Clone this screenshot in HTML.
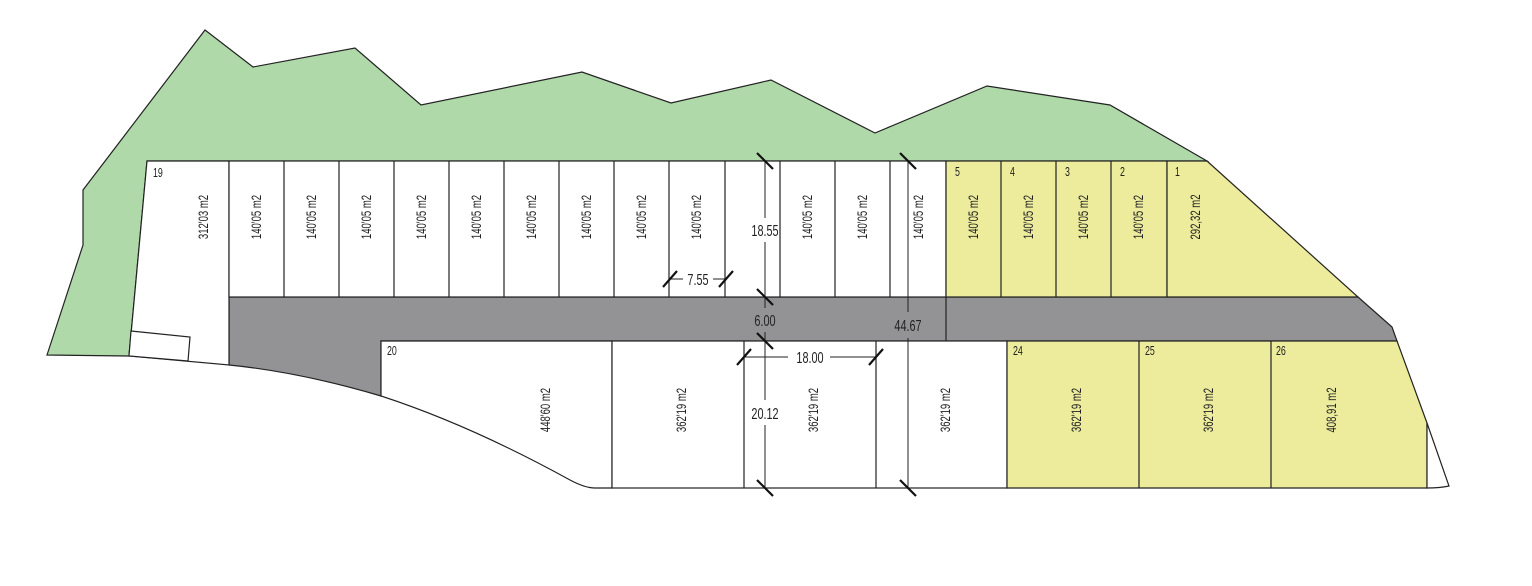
<!DOCTYPE html>
<html><head><meta charset="utf-8"><style>
html,body{margin:0;padding:0;background:#fff;}
svg{display:block}
text{font-family:"Liberation Sans",sans-serif;fill:#222;}
</style></head><body>
<svg width="1532" height="586" viewBox="0 0 1532 586" xmlns="http://www.w3.org/2000/svg">
<g stroke="#222" stroke-width="1.2">
<polygon fill="#b0d9aa" points="47,355 83,245 83,190 205,30 253,67 355,48 421,105 582,72 671,103 771,80 875,133 987,86 1110,105 1207,161 147,161 129,356"/>
<path fill="#939396" d="M229,297 L1358,297 L1392,327 L1397,341 L381,341 L381,396 Q300,372 229,365 Z"/>
<line x1="946" y1="297" x2="946" y2="341"/>
<polygon fill="#fff" points="147,161 229,161 229,365 129,356"/>
<polygon fill="#fff" points="131,331 190,337 188,361 129,356"/>
<rect x="229" y="161" width="717" height="136" fill="#fff"/>
<rect x="946" y="161" width="221" height="136" fill="#ecec9c"/>
<polygon fill="#ecec9c" points="1167,161 1207,161 1358,297 1167,297"/>
<g>
<line x1="284" y1="161" x2="284" y2="297"/><line x1="339" y1="161" x2="339" y2="297"/>
<line x1="394" y1="161" x2="394" y2="297"/><line x1="449" y1="161" x2="449" y2="297"/>
<line x1="504" y1="161" x2="504" y2="297"/><line x1="559" y1="161" x2="559" y2="297"/>
<line x1="614" y1="161" x2="614" y2="297"/><line x1="669" y1="161" x2="669" y2="297"/>
<line x1="725" y1="161" x2="725" y2="297"/><line x1="780" y1="161" x2="780" y2="297"/>
<line x1="835" y1="161" x2="835" y2="297"/><line x1="890" y1="161" x2="890" y2="297"/>
<line x1="1001" y1="161" x2="1001" y2="297"/><line x1="1056" y1="161" x2="1056" y2="297"/>
<line x1="1111" y1="161" x2="1111" y2="297"/>
</g>
<path fill="#fff" d="M381,341 L612,341 L612,488 L595,488 Q585,488 570,480 Q470,425 381,396 Z"/>
<rect x="612" y="341" width="395" height="147" fill="#fff"/>
<polygon fill="#ecec9c" points="1007,341 1397,341 1427,423 1427,488 1007,488"/>
<path fill="#fff" d="M1427,423 L1449,486 Q1440,488 1427,488 Z"/>
<line x1="744" y1="341" x2="744" y2="488"/><line x1="876" y1="341" x2="876" y2="488"/>
<line x1="1139" y1="341" x2="1139" y2="488"/><line x1="1271" y1="341" x2="1271" y2="488"/>
</g>
<g stroke="#222" stroke-width="1">
<line x1="765" y1="161" x2="765" y2="218"/><line x1="765" y1="242" x2="765" y2="308"/>
<line x1="765" y1="332" x2="765" y2="400"/><line x1="765" y1="425" x2="765" y2="488"/>
<line x1="908" y1="161" x2="908" y2="312"/><line x1="908" y1="338" x2="908" y2="488"/>
<line x1="669" y1="279" x2="683" y2="279"/><line x1="713" y1="279" x2="725" y2="279"/>
<line x1="744" y1="357" x2="788" y2="357"/><line x1="830" y1="357" x2="876" y2="357"/>
</g>
<g stroke="#111" stroke-width="2.2">
<line x1="757" y1="153" x2="773" y2="169"/><line x1="757" y1="289" x2="773" y2="305"/>
<line x1="757" y1="333" x2="773" y2="349"/><line x1="757" y1="480" x2="773" y2="496"/>
<line x1="900" y1="153" x2="916" y2="169"/><line x1="900" y1="480" x2="916" y2="496"/>
<line x1="663" y1="287" x2="677" y2="271"/><line x1="719" y1="287" x2="733" y2="271"/>
<line x1="737" y1="365" x2="751" y2="349"/><line x1="869" y1="365" x2="883" y2="349"/>
</g>
<g font-size="16" text-anchor="middle">
<text transform="translate(765,236) scale(0.68,1)">18.55</text>
<text transform="translate(765,326) scale(0.68,1)">6.00</text>
<text transform="translate(765,419) scale(0.68,1)">20.12</text>
<text transform="translate(908,331) scale(0.68,1)">44.67</text>
<text transform="translate(698,285) scale(0.68,1)">7.55</text>
<text transform="translate(810,363) scale(0.68,1)">18.00</text>
</g>
<g font-size="13">
<text transform="translate(153,177) scale(0.68,1)">19</text>
<text transform="translate(955,176) scale(0.68,1)">5</text>
<text transform="translate(1010,176) scale(0.68,1)">4</text>
<text transform="translate(1065,176) scale(0.68,1)">3</text>
<text transform="translate(1120,176) scale(0.68,1)">2</text>
<text transform="translate(1175,176) scale(0.68,1)">1</text>
<text transform="translate(387,355) scale(0.68,1)">20</text>
<text transform="translate(1013,355) scale(0.68,1)">24</text>
<text transform="translate(1145,355) scale(0.68,1)">25</text>
<text transform="translate(1276,355) scale(0.68,1)">26</text>
</g>
<g font-size="14" text-anchor="middle">
<text transform="translate(208,217) rotate(-90) scale(0.68,1)">312'03 m2</text>
<text transform="translate(261,217) rotate(-90) scale(0.68,1)">140'05 m2</text>
<text transform="translate(316,217) rotate(-90) scale(0.68,1)">140'05 m2</text>
<text transform="translate(371,217) rotate(-90) scale(0.68,1)">140'05 m2</text>
<text transform="translate(426,217) rotate(-90) scale(0.68,1)">140'05 m2</text>
<text transform="translate(481,217) rotate(-90) scale(0.68,1)">140'05 m2</text>
<text transform="translate(536,217) rotate(-90) scale(0.68,1)">140'05 m2</text>
<text transform="translate(591,217) rotate(-90) scale(0.68,1)">140'05 m2</text>
<text transform="translate(646,217) rotate(-90) scale(0.68,1)">140'05 m2</text>
<text transform="translate(701,217) rotate(-90) scale(0.68,1)">140'05 m2</text>
<text transform="translate(812,217) rotate(-90) scale(0.68,1)">140'05 m2</text>
<text transform="translate(867,217) rotate(-90) scale(0.68,1)">140'05 m2</text>
<text transform="translate(923,217) rotate(-90) scale(0.68,1)">140'05 m2</text>
<text transform="translate(978,217) rotate(-90) scale(0.68,1)">140'05 m2</text>
<text transform="translate(1033,217) rotate(-90) scale(0.68,1)">140'05 m2</text>
<text transform="translate(1088,217) rotate(-90) scale(0.68,1)">140'05 m2</text>
<text transform="translate(1143,217) rotate(-90) scale(0.68,1)">140'05 m2</text>
<text transform="translate(1200,217) rotate(-90) scale(0.68,1)">292,32 m2</text>
<text transform="translate(550,410) rotate(-90) scale(0.68,1)">448'60 m2</text>
<text transform="translate(686,410) rotate(-90) scale(0.68,1)">362'19 m2</text>
<text transform="translate(818,410) rotate(-90) scale(0.68,1)">362'19 m2</text>
<text transform="translate(950,410) rotate(-90) scale(0.68,1)">362'19 m2</text>
<text transform="translate(1081,410) rotate(-90) scale(0.68,1)">362'19 m2</text>
<text transform="translate(1213,410) rotate(-90) scale(0.68,1)">362'19 m2</text>
<text transform="translate(1336,410) rotate(-90) scale(0.68,1)">408,91 m2</text>
</g>
</svg>
</body></html>
